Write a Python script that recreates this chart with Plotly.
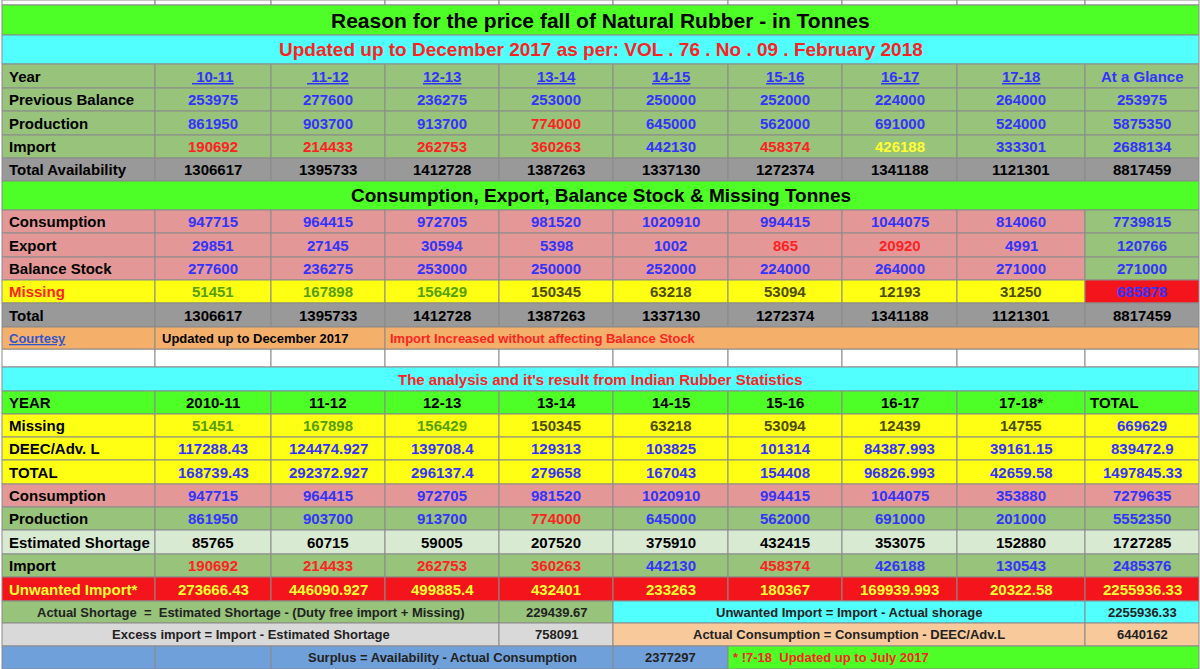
import plotly.graph_objects as go

# ---- data read from the sheet ----
years1 = ["10-11", "11-12", "12-13", "13-14", "14-15", "15-16", "16-17", "17-18", "At a Glance"]
prev_balance = [253975, 277600, 236275, 253000, 250000, 252000, 224000, 264000, 253975]
production = [861950, 903700, 913700, 774000, 645000, 562000, 691000, 524000, 5875350]
imports = [190692, 214433, 262753, 360263, 442130, 458374, 426188, 333301, 2688134]
total_avail = [1306617, 1395733, 1412728, 1387263, 1337130, 1272374, 1341188, 1121301, 8817459]
consumption = [947715, 964415, 972705, 981520, 1020910, 994415, 1044075, 814060, 7739815]
export = [29851, 27145, 30594, 5398, 1002, 865, 20920, 4991, 120766]
balance_stock = [277600, 236275, 253000, 250000, 252000, 224000, 264000, 271000, 271000]
missing = [51451, 167898, 156429, 150345, 63218, 53094, 12193, 31250, 685878]
total = [1306617, 1395733, 1412728, 1387263, 1337130, 1272374, 1341188, 1121301, 8817459]

years2 = ["2010-11", "11-12", "12-13", "13-14", "14-15", "15-16", "16-17", "17-18*", "TOTAL"]
missing2 = [51451, 167898, 156429, 150345, 63218, 53094, 12439, 14755, 669629]
deec = ["117288.43", "124474.927", "139708.4", "129313", "103825", "101314", "84387.993", "39161.15", "839472.9"]
total2 = ["168739.43", "292372.927", "296137.4", "279658", "167043", "154408", "96826.993", "42659.58", "1497845.33"]
consumption2 = [947715, 964415, 972705, 981520, 1020910, 994415, 1044075, 353880, 7279635]
production2 = [861950, 903700, 913700, 774000, 645000, 562000, 691000, 201000, 5552350]
est_shortage = [85765, 60715, 59005, 207520, 375910, 432415, 353075, 152880, 1727285]
imports2 = [190692, 214433, 262753, 360263, 442130, 458374, 426188, 130543, 2485376]
unwanted = ["273666.43", "446090.927", "499885.4", "432401", "233263", "180367", "169939.993", "20322.58", "2255936.33"]

actual_shortage = "229439.67"
excess_import = "758091"
unwanted_total = "2255936.33"
actual_consumption = "6440162"
surplus = "2377297"

# ---- geometry / style ----
COLS = [2, 155, 271, 385, 499, 613, 728, 842, 957, 1085, 1199]
GREEN, CYAN, SAGE, GRAY = "#4dff26", "#52ffff", "#97c37a", "#999999"
PINK, YEL, ORANGE, LGREEN = "#e49797", "#ffff14", "#f4b06a", "#d9ead3"
RED, LGRAY, BLUE, PEACH = "#f3141c", "#d9d9d9", "#70a0da", "#f7c99b"
TBLUE, TRED, TGRN, TOLV, TYEL = "#3333ff", "#ff2222", "#55a000", "#4d4d00", "#ffff30"
FONT = "Liberation Sans"

shapes, annos = [], []


def cell(x0, x1, y0, y1, fill, text="", color="black", size=15, align="center", pad=5):
    shapes.append(dict(type="rect", xref="x", yref="y", x0=x0, x1=x1, y0=y0, y1=y1,
                       fillcolor=fill, line=dict(color="#8a8a8a", width=1), layer="below"))
    if text != "":
        if align == "left":
            x, xa = x0 + pad, "left"
        else:
            x, xa = (x0 + x1) / 2, "center"
        annos.append(dict(x=x, y=(y0 + y1) / 2, xref="x", yref="y", text="<b>%s</b>" % text,
                          showarrow=False, xanchor=xa, yanchor="middle",
                          font=dict(family=FONT, size=size, color=color)))


def row(y0, y1, label, values, fills, colors, label_color="black"):
    cell(COLS[0], COLS[1], y0, y1, fills[0], label, label_color, align="left")
    for i, v in enumerate(values):
        cell(COLS[i + 1], COLS[i + 2], y0, y1, fills[i + 1], str(v), colors[i])


# empty sheet grid above and in the gap
for i in range(10):
    cell(COLS[i], COLS[i + 1], 0, 5, "white")
    cell(COLS[i], COLS[i + 1], 349, 367, "white")

cell(2, 1199, 5, 35, GREEN, "Reason for the price fall of Natural Rubber - in Tonnes", size=21)
cell(2, 1199, 35, 64, CYAN, "Updated up to December 2017 as per: VOL . 76 . No . 09 . February 2018", TRED, size=19)

# year header
cell(COLS[0], COLS[1], 64, 88, SAGE, "Year", align="left")
for i, yr in enumerate(years1):
    t = yr if i == 8 else "<u> %s</u>" % yr if i < 2 else "<u>%s</u>" % yr
    cell(COLS[i + 1], COLS[i + 2], 64, 88, SAGE, t, TBLUE)

s = [SAGE] * 10
row(88, 111, "Previous Balance", prev_balance, s, [TBLUE] * 9)
row(111, 135, "Production", production, s, [TBLUE] * 3 + [TRED] + [TBLUE] * 5)
row(135, 158, "Import", imports, s, [TRED] * 4 + [TBLUE, TRED, TYEL, TBLUE, TBLUE])
row(158, 181, "Total Availability", total_avail, [GRAY] * 10, ["black"] * 9)

cell(2, 1199, 181, 210, GREEN, "Consumption, Export, Balance Stock & Missing Tonnes", size=19)
p = [PINK] * 9 + [SAGE]
row(210, 233, "Consumption", consumption, p, [TBLUE] * 9)
row(233, 257, "Export", export, p, [TBLUE] * 5 + [TRED, TRED, TBLUE, TBLUE])
row(257, 280, "Balance Stock", balance_stock, p, [TBLUE] * 9)
row(280, 303, "Missing", missing, [YEL] * 9 + [RED], [TGRN] * 3 + [TOLV] * 5 + [TBLUE], TRED)
row(303, 327, "Total", total, [GRAY] * 10, ["black"] * 9)

cell(2, 155, 327, 349, ORANGE, "<u>Courtesy</u>", "#3355cc", size=13, align="left")
cell(155, 385, 327, 349, ORANGE, "Updated up to December 2017", size=13, align="left")
cell(385, 1199, 327, 349, ORANGE, "Import Increased without affecting Balance Stock", TRED, size=13, align="left", pad=3)

cell(2, 1199, 367, 391, CYAN, "The analysis and it's result from Indian Rubber Statistics", TRED, size=15)

cell(COLS[0], COLS[1], 391, 414, GREEN, "YEAR", align="left")
for i, yr in enumerate(years2):
    if i == 8:
        cell(COLS[i + 1], COLS[i + 2], 391, 414, GREEN, yr, align="left", pad=3)
    else:
        cell(COLS[i + 1], COLS[i + 2], 391, 414, GREEN, yr)

row(414, 437, "Missing", missing2, [YEL] * 10, [TGRN] * 3 + [TOLV] * 5 + [TBLUE])
row(437, 460, "DEEC/Adv. L", deec, [YEL] * 10, [TBLUE] * 9)
row(460, 484, "TOTAL", total2, [YEL] * 10, [TBLUE] * 9)
row(484, 507, "Consumption", consumption2, [PINK] * 10, [TBLUE] * 9)
row(507, 530, "Production", production2, s, [TBLUE] * 3 + [TRED] + [TBLUE] * 5)
row(530, 554, "Estimated Shortage", est_shortage, [LGREEN] * 10, ["black"] * 9)
row(554, 577, "Import", imports2, s, [TRED] * 4 + [TBLUE, TRED, TBLUE, TBLUE, TBLUE])
row(577, 601, "Unwanted Import*", unwanted, [RED] * 10, [TYEL] * 9, TYEL)

cell(2, 499, 601, 623, SAGE, "Actual Shortage  =  Estimated Shortage - (Duty free import + Missing)", "#222", size=13)
cell(499, 613, 601, 623, SAGE, actual_shortage, "#222", size=13)
cell(613, 1085, 601, 623, CYAN, "Unwanted Import = Import - Actual shorage", "#222", size=13)
cell(1085, 1199, 601, 623, CYAN, unwanted_total, "#222", size=13)

cell(2, 499, 623, 646, LGRAY, "Excess import = Import - Estimated Shortage", "#222", size=13)
cell(499, 613, 623, 646, LGRAY, excess_import, "#222", size=13)
cell(613, 1085, 623, 646, PEACH, "Actual Consumption = Consumption - DEEC/Adv.L", "#222", size=13)
cell(1085, 1199, 623, 646, PEACH, actual_consumption, "#222", size=13)

cell(2, 155, 646, 669, BLUE)
cell(155, 271, 646, 669, BLUE)
cell(271, 613, 646, 669, BLUE, "Surplus = Availability - Actual Consumption", "#222", size=13)
cell(613, 728, 646, 669, BLUE, surplus, "#222", size=13)
cell(728, 1199, 646, 669, GREEN, "* !7-18  Updated up to July 2017", TRED, size=13, align="left", pad=3)

fig = go.Figure()
fig.update_layout(
    width=1200, height=669, autosize=False,
    margin=dict(l=0, r=0, t=0, b=0),
    paper_bgcolor="white", plot_bgcolor="white",
    xaxis=dict(range=[0, 1200], visible=False, fixedrange=True),
    yaxis=dict(range=[669, 0], visible=False, fixedrange=True),
    shapes=shapes, annotations=annos, showlegend=False,
)
# the page's default body margin would push the sheet off the window
fig.write_html("out.html", config={"displayModeBar": False},
               post_script="document.body.style.margin='0';document.body.style.overflow='hidden';")
